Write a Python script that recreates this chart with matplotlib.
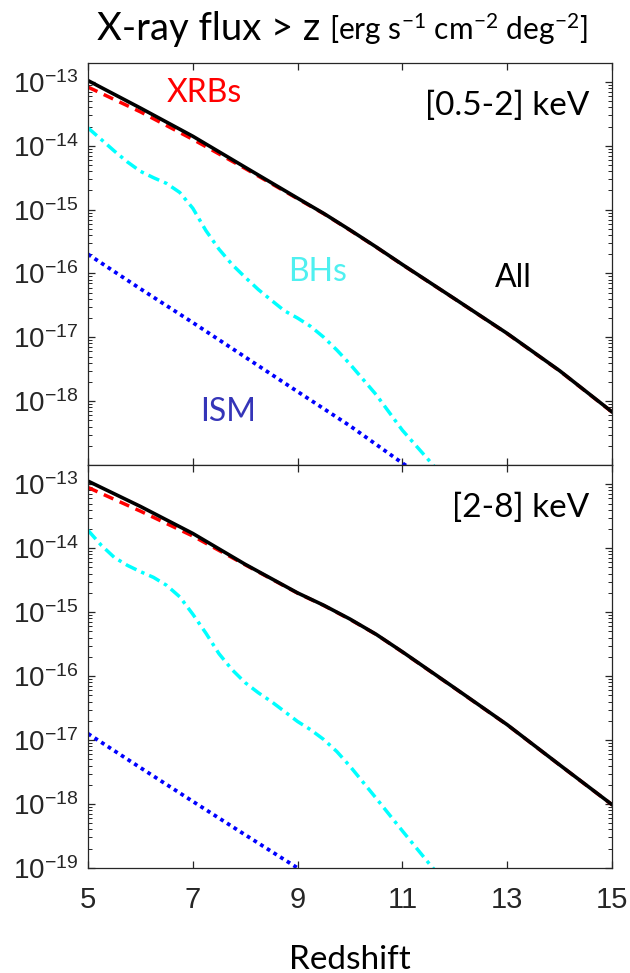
import matplotlib
matplotlib.use("Agg")
import matplotlib.pyplot as plt
from matplotlib.ticker import LogLocator, LogFormatterMathtext, NullFormatter, FixedLocator

# ---------------- data ----------------
z_main = [5, 6, 7, 8, 9, 9.5, 10, 10.5, 11, 12, 13, 14, 15]
z_bh = [5, 5.25, 5.5, 5.75, 6, 6.25, 6.5, 6.75, 7, 7.25, 7.5, 7.75, 8, 8.25, 8.5,
        8.75, 9, 9.25, 9.5, 9.75, 10, 10.5, 11, 11.5, 12]
z_ism_soft = [5, 6, 7, 8, 9, 10, 11, 12]
z_ism_hard = [5, 6, 7, 8, 9, 10]

# [0.5-2] keV
all_soft = [1.05e-13, 3.9e-14, 1.41e-14, 4.6e-15, 1.51e-15, 8.7e-16, 4.8e-16, 2.6e-16,
            1.38e-16, 4.0e-17, 1.15e-17, 3.0e-18, 6.8e-19]
xrb_soft = [8.3e-14, 3.4e-14, 1.26e-14, 4.4e-15, 1.48e-15, 8.6e-16, 4.75e-16, 2.58e-16,
            1.37e-16, 3.98e-17, 1.14e-17, 2.98e-18, 6.75e-19]
bh_soft = [1.905e-14, 1.26e-14, 8.3e-15, 5.6e-15, 3.98e-15, 3.16e-15, 2.57e-15, 1.86e-15,
           1.05e-15, 4.7e-16, 2.4e-16, 1.38e-16, 8.7e-17, 5.6e-17, 3.8e-17, 2.6e-17,
           2.0e-17, 1.48e-17, 1.0e-17, 6.3e-18, 3.8e-18, 1.26e-18, 3.5e-19, 1.2e-19, 4.0e-20]
ism_soft = [2.0e-16, 5.75e-17, 1.7e-17, 4.9e-18, 1.41e-18, 4.1e-19, 1.07e-19, 3.0e-20]

# [2-8] keV
all_hard = [1.12e-13, 4.5e-14, 1.7e-14, 5.6e-15, 2.0e-15, 1.28e-15, 7.8e-16, 4.5e-16,
            2.4e-16, 6.5e-17, 1.74e-17, 4.1e-18, 9.8e-19]
xrb_hard = [8.9e-14, 3.8e-14, 1.55e-14, 5.5e-15, 1.98e-15, 1.27e-15, 7.7e-16, 4.48e-16,
            2.38e-16, 6.45e-17, 1.73e-17, 4.08e-18, 9.75e-19]
bh_hard = [1.905e-14, 1.12e-14, 7.2e-15, 5.4e-15, 4.3e-15, 3.5e-15, 2.63e-15, 1.74e-15,
           9.3e-16, 4.7e-16, 2.24e-16, 1.26e-16, 7.9e-17, 5.5e-17, 4.0e-17, 2.8e-17,
           1.95e-17, 1.45e-17, 1.02e-17, 6.6e-18, 3.9e-18, 1.23e-18, 3.8e-19, 1.2e-19, 4.0e-20]
ism_hard = [1.26e-17, 3.7e-18, 1.1e-18, 3.3e-19, 1.0e-19, 3.0e-20]

panels = [
    ("[0.5-2] keV", all_soft, xrb_soft, bh_soft, ism_soft, z_ism_soft),
    ("[2-8] keV", all_hard, xrb_hard, bh_hard, ism_hard, z_ism_hard),
]
x_ticks = [5, 7, 9, 11, 13, 15]
y_ticks_top = [1e-18, 1e-17, 1e-16, 1e-15, 1e-14, 1e-13]
y_ticks_bottom = [1e-19, 1e-18, 1e-17, 1e-16, 1e-15, 1e-14, 1e-13]

# ---------------- style ----------------
plt.rcParams["font.family"] = ["Liberation Sans", "DejaVu Sans"]
plt.rcParams["mathtext.default"] = "regular"
TXT = ["Lato", "DejaVu Sans"]
TICKCOL = "#262626"

fig = plt.figure(figsize=(6.3, 9.73), dpi=100)
L, R = 88 / 630, 612 / 630
y_top_hi, y_mid, y_bot = 1 - 62.7 / 973, 1 - 465 / 973, 1 - 868 / 973
ax1 = fig.add_axes([L, y_mid, R - L, y_top_hi - y_mid])
ax2 = fig.add_axes([L, y_bot, R - L, y_mid - y_bot], sharex=ax1)

for ax, (band, a, x, b, i, zi), yt in zip([ax1, ax2], panels, [y_ticks_top, y_ticks_bottom]):
    ax.set_yscale("log")
    ax.plot(zi, i, color="#0000ff", lw=2.7, linestyle=(0, (1, 1.1)), dash_capstyle="butt")
    ax.plot(z_bh, b, color="#00ffff", lw=2.5, linestyle=(0, (3.4, 1.5, 1.0, 1.5)))
    ax.plot(z_main, x, color="#ff0000", lw=2.5, linestyle=(0, (3.0, 2.0)))
    ax.plot(z_main, a, color="black", lw=2.6)
    ax.set_xlim(5, 15)
    ax.xaxis.set_major_locator(FixedLocator(x_ticks))
    ax.set_yticks(yt)
    ax.yaxis.set_minor_locator(LogLocator(base=10, subs=range(2, 10), numticks=20))
    ax.yaxis.set_minor_formatter(NullFormatter())
    ax.yaxis.set_major_formatter(LogFormatterMathtext())
    ax.set_ylim(1e-19, 2e-13)
    ax.tick_params(which="both", direction="in", top=True, right=True,
                   colors=TICKCOL, labelcolor=TICKCOL)
    ax.tick_params(which="major", length=5, width=0.9)
    ax.tick_params(which="minor", length=3, width=0.7)
    ax.tick_params(axis="y", labelsize=20, pad=7)
    ax.tick_params(axis="x", labelsize=21, pad=13)
    for s in ax.spines.values():
        s.set_color(TICKCOL)
        s.set_linewidth(0.9)
    ax.text(0.957, 0.893, band, transform=ax.transAxes, ha="right", va="center",
            fontsize=24, family=TXT, color="black")

ax1.tick_params(axis="x", labelbottom=False)

ax1.text(0.221, 0.925, "XRBs", transform=ax1.transAxes, ha="center", va="center",
         fontsize=23, family=TXT, color="#ff0000")
ax1.text(0.439, 0.480, "BHs", transform=ax1.transAxes, ha="center", va="center",
         fontsize=23, family=TXT, color="#4ff0f0")
ax1.text(0.811, 0.465, "All", transform=ax1.transAxes, ha="center", va="center",
         fontsize=23, family=TXT, color="black")
ax1.text(0.267, 0.132, "ISM", transform=ax1.transAxes, ha="center", va="center",
         fontsize=23, family=TXT, color="#3535b8")

ax2.set_xlabel("Redshift", fontsize=24, family=TXT, labelpad=22)

# title in two sizes, second part placed right after the first
t1 = fig.text(97 / 630, 1 - 40 / 973, "X-ray flux > z", ha="left", va="baseline",
              fontsize=27.5, family=TXT, color="black")
fig.canvas.draw()
bb = t1.get_window_extent()
x2 = (bb.x1 + 9) / fig.bbox.width
fig.text(x2, 1 - 40 / 973, "[erg s$^{-1}$ cm$^{-2}$ deg$^{-2}$]", ha="left", va="baseline",
         fontsize=21.5, family=TXT, color="black")

fig.savefig("out.png", dpi=100)
